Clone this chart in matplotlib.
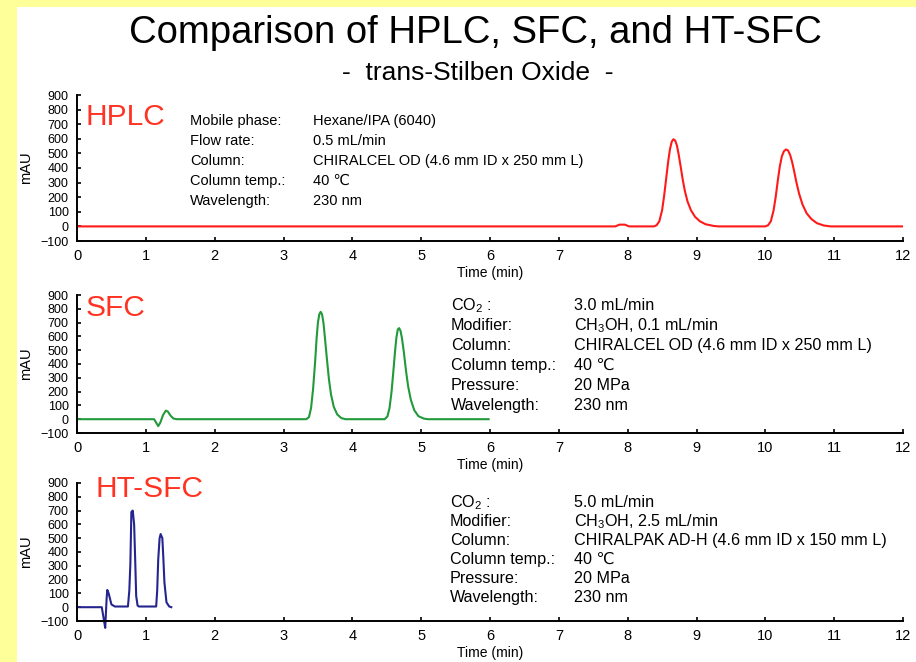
import matplotlib
matplotlib.use("Agg")
import matplotlib.pyplot as plt
from matplotlib.patches import Rectangle

plt.rcParams['font.family'] = ['Liberation Sans', 'DejaVu Sans']

# ---------------- data ----------------
hplc_time = [0, 7.82, 7.88, 7.96, 8.02,
             8.38, 8.42, 8.46, 8.50, 8.53, 8.56, 8.59, 8.615, 8.64, 8.665, 8.69, 8.715, 8.74,
             8.77, 8.80, 8.83, 8.87, 8.92, 8.98, 9.05, 9.13, 9.25, 9.32,
             10.0, 10.04, 10.08, 10.12, 10.15, 10.18, 10.21, 10.24, 10.27, 10.30, 10.33, 10.36,
             10.39, 10.42, 10.45, 10.49, 10.54, 10.60, 10.67, 10.75, 10.85, 10.95, 12.0]
hplc_mAU = [0, 0, 12, 12, 0,
            0, 8, 35, 110, 210, 330, 450, 530, 580, 597, 588, 555, 495,
            410, 320, 245, 170, 110, 65, 35, 15, 3, 0,
            0, 8, 35, 110, 200, 310, 410, 480, 515, 527, 520, 490,
            440, 375, 305, 225, 150, 90, 50, 22, 6, 0, 0]

sfc_time = [0, 1.12, 1.15, 1.18, 1.21, 1.25, 1.29, 1.32, 1.36, 1.40, 1.45,
            3.33, 3.37, 3.40, 3.43, 3.46, 3.48, 3.50, 3.52, 3.54, 3.56, 3.58, 3.60, 3.63,
            3.66, 3.69, 3.73, 3.78, 3.84, 3.90,
            4.47, 4.51, 4.54, 4.57, 4.60, 4.62, 4.64, 4.66, 4.68, 4.70, 4.72, 4.75, 4.78,
            4.81, 4.85, 4.90, 4.96, 5.04, 5.10, 5.98]
sfc_mAU = [0, 0, -25, -50, -25, 30, 62, 55, 25, 5, 0,
           0, 15, 80, 220, 420, 580, 700, 760, 778, 760, 700, 600, 440,
           290, 180, 90, 35, 8, 0,
           0, 20, 80, 200, 370, 490, 590, 650, 660, 640, 590, 480, 350,
           240, 140, 65, 22, 4, 0, 0]

htsfc_time = [0, 0.36, 0.39, 0.41, 0.43, 0.44, 0.46, 0.50, 0.55, 0.74, 0.76, 0.775, 0.79, 0.81,
              0.83, 0.845, 0.86, 0.88, 0.90, 1.15, 1.165, 1.18, 1.20, 1.215, 1.24, 1.255,
              1.27, 1.30, 1.34, 1.37]
htsfc_mAU = [0, 0, -90, -150, 60, 125, 100, 20, 5, 5, 120, 310, 690, 700,
             600, 350, 80, 12, 5, 5, 120, 345, 500, 530, 500, 350,
             180, 35, 5, 0]

x_ticks = list(range(0, 13))
y_ticks = list(range(-100, 1000, 100))

title = "Comparison of HPLC, SFC, and HT-SFC"
subtitle = "-  trans-Stilben Oxide  -"

panel_names = ["HPLC", "SFC", "HT-SFC"]
hplc_labels = ["Mobile phase:", "Flow rate:", "Column:", "Column temp.:", "Wavelength:"]
hplc_values = ["Hexane/IPA (6040)", "0.5 mL/min", "CHIRALCEL OD (4.6 mm ID x 250 mm L)",
               "40 \u2103", "230 nm"]
sfc_labels = ["CO$_\\mathregular{2}$ :", "Modifier:", "Column:", "Column temp.:", "Pressure:", "Wavelength:"]
sfc_values = ["3.0 mL/min", "CH$_\\mathregular{3}$OH, 0.1 mL/min",
              "CHIRALCEL OD (4.6 mm ID x 250 mm L)", "40 \u2103", "20 MPa", "230 nm"]
htsfc_labels = ["CO$_\\mathregular{2}$ :", "Modifier:", "Column:", "Column temp.:", "Pressure:", "Wavelength:"]
htsfc_values = ["5.0 mL/min", "CH$_\\mathregular{3}$OH, 2.5 mL/min",
                "CHIRALPAK AD-H (4.6 mm ID x 150 mm L)", "40 \u2103", "20 MPa", "230 nm"]

# ---------------- layout ----------------
W, H = 916, 662
fig = plt.figure(figsize=(W / 100, H / 100), dpi=100, facecolor='#ffff99')
fig.add_artist(Rectangle((17 / W, 0), 1 - 17 / W, 1 - 7 / H, transform=fig.transFigure,
                         facecolor='white', edgecolor='none', zorder=-10))


def fx(x):
    return x / W


def fy(y):
    return 1 - y / H


def make_axes(top_px, bottom_px):
    ax = fig.add_axes([fx(77), fy(bottom_px), (903 - 77) / W, (bottom_px - top_px) / H])
    ax.set_facecolor('none')
    ax.set_xlim(0, 12)
    ax.set_ylim(-100, 900)
    ax.set_xticks(x_ticks)
    ax.set_yticks(y_ticks)
    for s in ['top', 'right']:
        ax.spines[s].set_visible(False)
    for s in ['left', 'bottom']:
        ax.spines[s].set_linewidth(1.4)
    ax.tick_params(axis='both', direction='in', length=3, width=1.2, colors='black')
    ax.tick_params(axis='x', labelsize=10.5, pad=6)
    ax.tick_params(axis='y', labelsize=9, pad=6)
    ax.set_xlabel("Time (min)", fontsize=10, labelpad=2)
    ax.set_ylabel("mAU", fontsize=10.5)
    ax.yaxis.set_label_coords(-0.053, 0.5)
    return ax


ax1 = make_axes(95, 241)
ax2 = make_axes(295, 433)
ax3 = make_axes(483, 621)

ax1.plot(hplc_time, hplc_mAU, color='#ff1a1a', lw=1.5)
ax2.plot(sfc_time, sfc_mAU, color='#22993a', lw=1.5)
ax3.plot(htsfc_time, htsfc_mAU, color='#25258f', lw=1.5, clip_on=False)

# titles
fig.text(fx(475), fy(33), title, fontsize=27.5, ha='center', va='center')
fig.text(fx(478), fy(73), subtitle, fontsize=19, ha='center', va='center')

# panel names
red = '#ff3322'
fig.text(fx(86), fy(117), panel_names[0], fontsize=21.5, color=red, ha='left', va='center')
fig.text(fx(86), fy(308), panel_names[1], fontsize=21.5, color=red, ha='left', va='center')
fig.text(fx(95), fy(489), panel_names[2], fontsize=21.5, color=red, ha='left', va='center')

# info blocks (baseline aligned)
for i, (lab, val) in enumerate(zip(hplc_labels, hplc_values)):
    y = 120 + 20 * i + 5
    fig.text(fx(190), fy(y), lab, fontsize=10.5, ha='left', va='baseline')
    fig.text(fx(313), fy(y), val, fontsize=10.5, ha='left', va='baseline')

for i, (lab, val) in enumerate(zip(sfc_labels, sfc_values)):
    y = 305 + 20 * i + 5
    fig.text(fx(451), fy(y), lab, fontsize=11.6, ha='left', va='baseline')
    fig.text(fx(574), fy(y), val, fontsize=11.6, ha='left', va='baseline')

for i, (lab, val) in enumerate(zip(htsfc_labels, htsfc_values)):
    y = 502 + 19 * i + 5
    fig.text(fx(450), fy(y), lab, fontsize=11.6, ha='left', va='baseline')
    fig.text(fx(574), fy(y), val, fontsize=11.6, ha='left', va='baseline')

fig.savefig("out.png", dpi=100, facecolor=fig.get_facecolor())
